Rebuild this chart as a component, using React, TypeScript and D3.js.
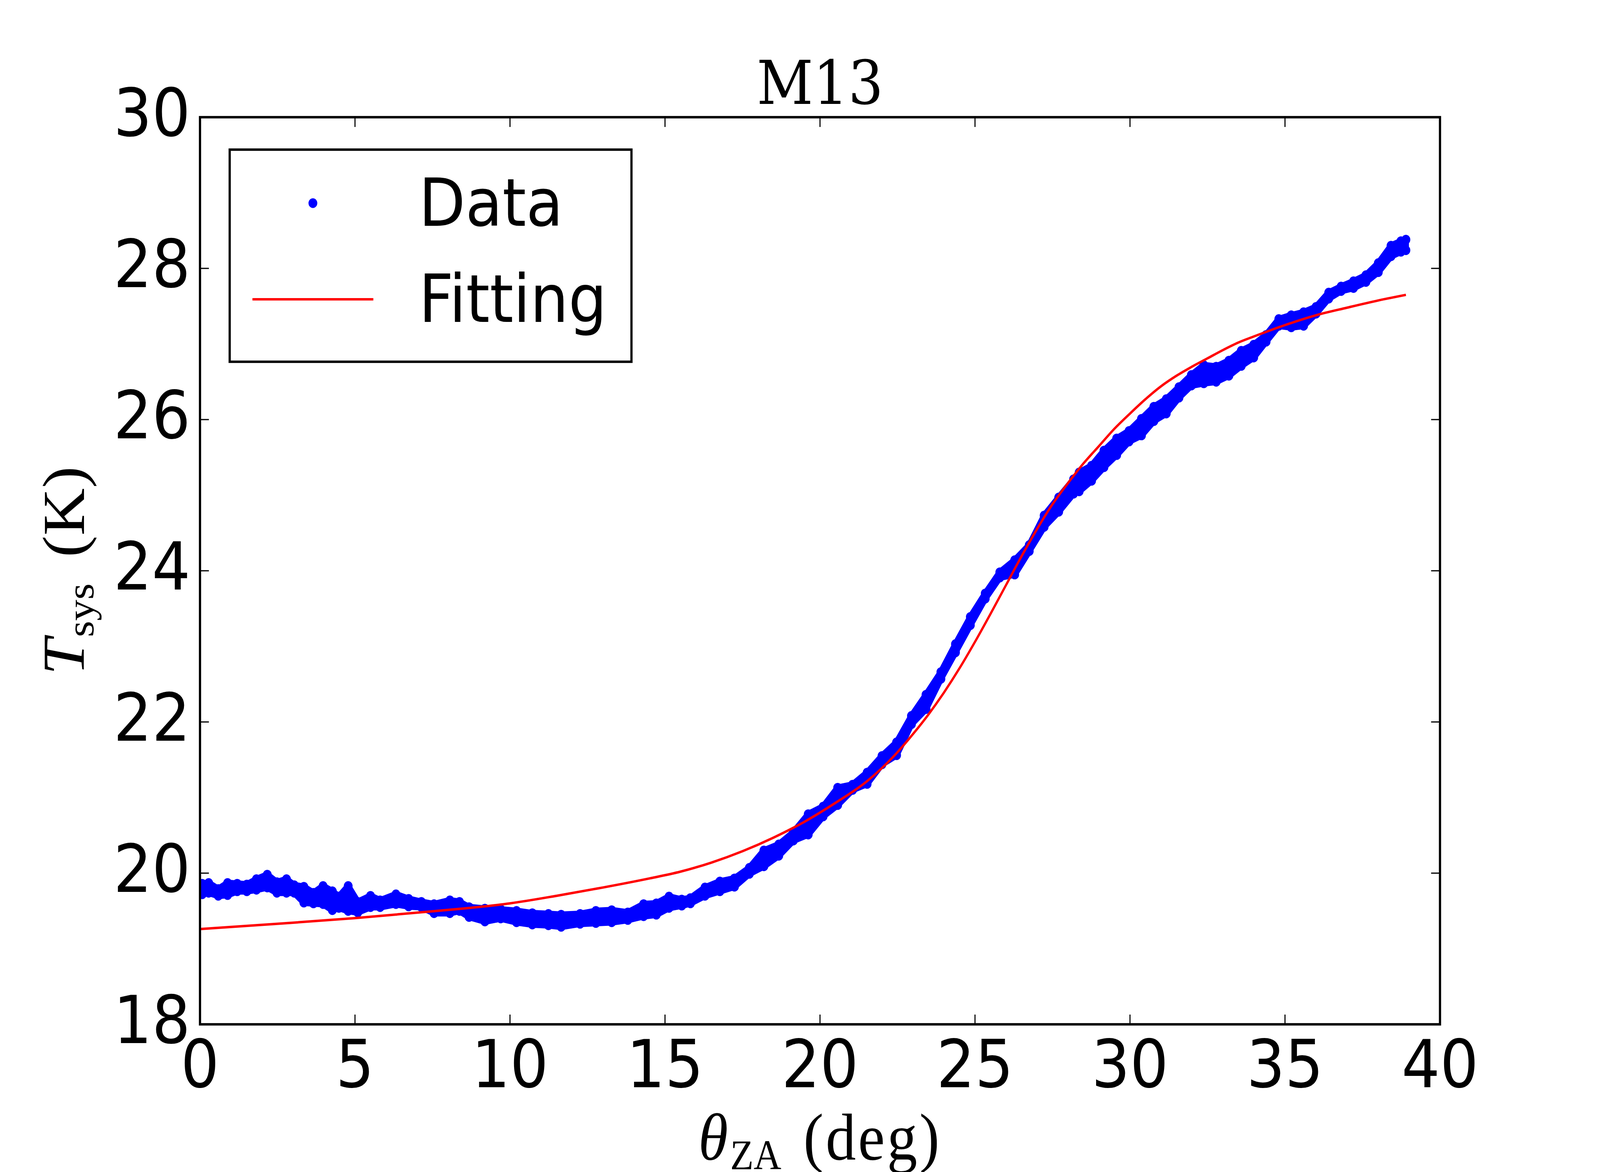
import React, { useEffect } from "react";
import * as d3 from "d3";

// M13: system temperature vs zenith angle, data band + fitted curve

// data band (low / high edge of the scattered points)
const thetaData = [
  0.07, 0.28, 0.59, 0.89, 1.2, 1.51, 1.82, 2.17, 2.48, 2.79, 3.04, 3.35, 3.66,
  3.97, 4.27, 4.48, 4.78, 5.09, 5.5, 5.81, 6.32, 6.73, 7.14, 7.55, 8.06, 8.37,
  8.68, 9.19, 9.7, 10.21, 10.72, 11.24, 11.65, 12.26, 12.77, 13.28, 13.8,
  14.31, 14.72, 15.13, 15.54, 15.82, 16.29, 16.77, 17.24, 17.72, 18.19, 18.67,
  19.14, 19.62, 20.1, 20.57, 21.05, 21.52, 22.0, 22.47, 22.95, 23.42, 23.9,
  24.37, 24.85, 25.33, 25.8, 26.28, 26.75, 27.23, 27.7, 28.18, 28.36, 28.76,
  29.16, 29.57, 29.97, 30.37, 30.77, 31.17, 31.58, 31.98, 32.38, 32.78, 33.19,
  33.59, 33.99, 34.39, 34.8, 35.2, 35.6, 36.0, 36.41, 36.81, 37.21, 37.61,
  38.01, 38.42, 38.74, 38.9,
];
const tsysLow = [
  19.72, 19.74, 19.7, 19.71, 19.76, 19.76, 19.78, 19.81, 19.74, 19.74, 19.74,
  19.61, 19.6, 19.59, 19.51, 19.54, 19.5, 19.48, 19.55, 19.55, 19.59, 19.56,
  19.55, 19.47, 19.47, 19.5, 19.42, 19.36, 19.4, 19.35, 19.32, 19.31, 19.29,
  19.33, 19.34, 19.35, 19.38, 19.43, 19.45, 19.54, 19.57, 19.6, 19.7, 19.76,
  19.82, 19.99, 20.09, 20.23, 20.43, 20.51, 20.75, 20.9, 21.1, 21.18, 21.44,
  21.56, 21.97, 22.17, 22.57, 22.92, 23.28, 23.63, 23.91, 23.95, 24.26, 24.58,
  24.78, 25.02, 25.05, 25.19, 25.37, 25.53, 25.71, 25.79, 25.98, 26.08, 26.29,
  26.45, 26.48, 26.5, 26.58, 26.71, 26.82, 27.03, 27.24, 27.22, 27.24, 27.4,
  27.6, 27.7, 27.74, 27.82, 27.95, 28.16, 28.22, 28.24,
];
const tsysHigh = [
  19.86, 19.87, 19.79, 19.87, 19.86, 19.85, 19.92, 19.98, 19.88, 19.92, 19.84,
  19.82, 19.74, 19.83, 19.76, 19.69, 19.83, 19.62, 19.7, 19.64, 19.72, 19.66,
  19.62, 19.59, 19.64, 19.62, 19.55, 19.53, 19.52, 19.5, 19.47, 19.46, 19.45,
  19.46, 19.5, 19.51, 19.48, 19.59, 19.6, 19.69, 19.65, 19.67, 19.81, 19.89,
  19.93, 20.07, 20.3, 20.38, 20.54, 20.78, 20.88, 21.13, 21.17, 21.33, 21.55,
  21.73, 22.08, 22.36, 22.66, 23.03, 23.39, 23.7, 23.98, 24.14, 24.34, 24.73,
  24.97, 25.21, 25.3, 25.39, 25.59, 25.75, 25.85, 26.01, 26.17, 26.27, 26.43,
  26.59, 26.72, 26.7, 26.78, 26.91, 26.99, 27.12, 27.33, 27.38, 27.42, 27.49,
  27.68, 27.76, 27.83, 27.91, 28.07, 28.3, 28.36, 28.38,
];

// fitted curve
const fitTheta = [
  0, 2.5, 5, 7.5, 10, 11.5, 13, 14.5, 15.5, 16.5, 17.5, 18.5, 19.5, 20.5, 21.5,
  22.5, 23, 23.5, 24, 24.5, 25, 25.5, 26, 26.5, 27, 27.5, 28, 28.5, 29, 29.5,
  30, 30.5, 31, 31.5, 32, 32.5, 33, 33.5, 34, 35, 36, 37, 38, 38.9,
];
const fitTsys = [
  19.26, 19.33, 19.405, 19.495, 19.6, 19.7, 19.81, 19.93, 20.02, 20.14, 20.29,
  20.47, 20.68, 20.93, 21.21, 21.6, 21.84, 22.1, 22.39, 22.71, 23.06, 23.43,
  23.81, 24.19, 24.55, 24.88, 25.16, 25.42, 25.65, 25.88, 26.08, 26.27, 26.44,
  26.58, 26.7, 26.81, 26.92, 27.02, 27.1, 27.25, 27.38, 27.48, 27.575, 27.65,
];

const xTicks = [0, 5, 10, 15, 20, 25, 30, 35, 40];
const yTicks = [18, 20, 22, 24, 26, 28, 30];
const legendLabels = ["Data", "Fitting"];

const W = 4500;
const H = 3000;
const plot = { left: 562.5, right: 4050, top: 300, bottom: 2622 };
const BLUE = "#0000ff";
const RED = "#ff0000";
const LW = 6.25; // 1pt at 450 dpi
const TICK = 25;
const DOT_R = 12.4;
const sans = "'DejaVu Sans', sans-serif";
const serif = "'Liberation Serif', 'DejaVu Serif', serif";

export default function App() {
  useEffect(() => {
    document.body.style.margin = "0";
    document.body.style.overflow = "hidden";
  }, []);

  const x = d3.scaleLinear().domain([0, 40]).range([plot.left, plot.right]);
  const y = d3.scaleLinear().domain([18, 30]).range([plot.bottom, plot.top]);

  const band = thetaData.map((t, i) => ({ t, lo: tsysLow[i], hi: tsysHigh[i] }));
  const bandArea = d3
    .area<{ t: number; lo: number; hi: number }>()
    .x((d) => x(d.t))
    .y0((d) => y(d.lo))
    .y1((d) => y(d.hi));

  const fitLine = d3
    .line<number>()
    .x((d, i) => x(fitTheta[i]))
    .y((d) => y(d))
    .curve(d3.curveMonotoneX);

  const cx = (plot.left + plot.right) / 2;
  const cy = (plot.top + plot.bottom) / 2;

  return (
    <svg
      viewBox={`0 0 ${W} ${H}`}
      preserveAspectRatio="none"
      style={{
        position: "fixed",
        left: 0,
        top: 0,
        width: "100vw",
        height: "100vh",
        display: "block",
      }}
    >
      <rect x={0} y={0} width={W} height={H} fill="#fff" />
      <defs>
        <clipPath id="plotClip">
          <rect
            x={plot.left}
            y={plot.top}
            width={plot.right - plot.left}
            height={plot.bottom - plot.top}
          />
        </clipPath>
      </defs>

      <g clipPath="url(#plotClip)">
        {/* data: the scattered points form a band */}
        <path
          d={bandArea(band) || ""}
          fill={BLUE}
          stroke={BLUE}
          strokeWidth={17}
          strokeLinejoin="round"
        />
        {band.map((d, i) => (
          <g key={i}>
            <circle cx={x(d.t)} cy={y(d.lo)} r={DOT_R} fill={BLUE} />
            <circle cx={x(d.t)} cy={y(d.hi)} r={DOT_R} fill={BLUE} />
          </g>
        ))}
        {/* fitting */}
        <path d={fitLine(fitTsys) || ""} fill="none" stroke={RED} strokeWidth={LW} />
      </g>

      {/* ticks, pointing in, on all four sides */}
      {xTicks.map((t) => (
        <g key={"xt" + t} stroke="#000" strokeWidth={3.1}>
          <line x1={x(t)} x2={x(t)} y1={plot.bottom} y2={plot.bottom - TICK} />
          <line x1={x(t)} x2={x(t)} y1={plot.top} y2={plot.top + TICK} />
        </g>
      ))}
      {yTicks.map((t) => (
        <g key={"yt" + t} stroke="#000" strokeWidth={3.1}>
          <line x1={plot.left} x2={plot.left + TICK} y1={y(t)} y2={y(t)} />
          <line x1={plot.right} x2={plot.right - TICK} y1={y(t)} y2={y(t)} />
        </g>
      ))}

      {/* spines */}
      <rect
        x={plot.left}
        y={plot.top}
        width={plot.right - plot.left}
        height={plot.bottom - plot.top}
        fill="none"
        stroke="#000"
        strokeWidth={LW}
      />

      {/* tick labels */}
      {xTicks.map((t) => (
        <text
          key={"xl" + t}
          x={x(t)}
          y={plot.bottom + 161}
          textAnchor="middle"
          fontFamily={sans}
          fontSize={170}
        >
          {t}
        </text>
      ))}
      {yTicks.map((t) => (
        <text
          key={"yl" + t}
          x={plot.left - 27}
          y={y(t) + 48}
          textAnchor="end"
          fontFamily={sans}
          fontSize={170}
        >
          {t}
        </text>
      ))}

      {/* title */}
      <text
        x={cx}
        y={266}
        textAnchor="middle"
        fontFamily="'DejaVu Serif', serif"
        fontSize={155}
      >
        M13
      </text>

      {/* axis labels */}
      <text
        x={cx}
        y={2968}
        textAnchor="middle"
        fontFamily={serif}
        fontSize={170}
      >
        <tspan fontStyle="italic">θ</tspan>
        <tspan fontSize={108} dy={25} dx={6}>ZA</tspan>
        <tspan dy={-25} dx={62} letterSpacing={6}>(deg)</tspan>
      </text>
      <text
        transform={`translate(236,${cy}) rotate(-90)`}
        textAnchor="middle"
        fontFamily={serif}
        fontSize={168}
      >
        <tspan fontStyle="italic">T</tspan>
        <tspan fontSize={108} dy={27} dx={4}>sys</tspan>
        <tspan dy={-27} dx={66}>(K)</tspan>
      </text>

      {/* legend */}
      <g>
        <rect
          x={646}
          y={383}
          width={1130}
          height={543}
          fill="#fff"
          stroke="#000"
          strokeWidth={LW}
        />
        <circle cx={880} cy={520} r={DOT_R} fill={BLUE} />
        <line x1={710} x2={1050} y1={766} y2={766} stroke={RED} strokeWidth={LW} />
        {legendLabels.map((label, i) => (
          <text
            key={label}
            x={1178}
            y={578 + i * 246}
            fontFamily={sans}
            fontSize={170}
          >
            {label}
          </text>
        ))}
      </g>
    </svg>
  );
}
